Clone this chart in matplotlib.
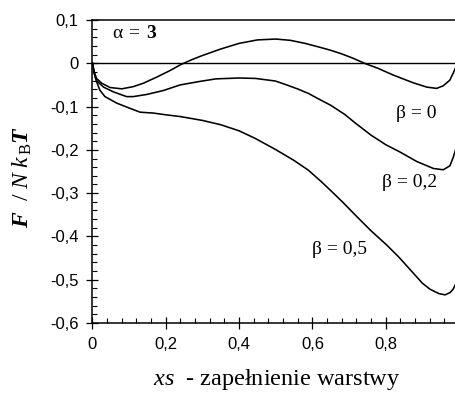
import matplotlib
matplotlib.use("Agg")
import matplotlib.pyplot as plt
from matplotlib.ticker import FixedLocator, FixedFormatter, MultipleLocator

plt.rcParams['mathtext.fontset'] = 'custom'
plt.rcParams['mathtext.rm'] = 'Liberation Serif'
plt.rcParams['mathtext.it'] = 'Liberation Serif:italic'
plt.rcParams['mathtext.bf'] = 'Liberation Serif:bold'
plt.rcParams['mathtext.bfit'] = 'Liberation Serif:italic:bold'

# ---- data ----
x_b0 = [0, 0.004, 0.011, 0.025, 0.048, 0.080, 0.111, 0.139, 0.175, 0.211, 0.241,
        0.270, 0.300, 0.350, 0.400, 0.450, 0.500, 0.540, 0.580, 0.616, 0.650,
        0.679, 0.710, 0.742, 0.780, 0.820, 0.875, 0.912, 0.939, 0.957, 0.975,
        0.984, 0.992, 1.0]
y_b0 = [0, -0.018, -0.035, -0.046, -0.056, -0.059, -0.054, -0.046, -0.032, -0.017, -0.003,
        0.008, 0.018, 0.033, 0.046, 0.054, 0.056, 0.053, 0.046, 0.038, 0.030,
        0.022, 0.012, 0.0, -0.012, -0.027, -0.045, -0.055, -0.058, -0.052, -0.039,
        -0.023, -0.008, 0.0]

x_b02 = [0, 0.004, 0.011, 0.030, 0.057, 0.093, 0.111, 0.148, 0.193, 0.239, 0.292,
         0.337, 0.400, 0.445, 0.499, 0.530, 0.562, 0.590, 0.616, 0.650, 0.688,
         0.720, 0.760, 0.800, 0.839, 0.885, 0.930, 0.957, 0.975, 0.984, 0.992, 1.0]
y_b02 = [0, -0.020, -0.040, -0.055, -0.066, -0.077, -0.077, -0.072, -0.063, -0.050, -0.042,
         -0.036, -0.034, -0.035, -0.041, -0.050, -0.060, -0.070, -0.082, -0.097, -0.118,
         -0.140, -0.166, -0.188, -0.205, -0.227, -0.243, -0.246, -0.237, -0.218, -0.196, -0.170]

x_b05 = [0, 0.004, 0.011, 0.020, 0.034, 0.066, 0.102, 0.130, 0.166, 0.200, 0.239,
         0.300, 0.350, 0.400, 0.445, 0.499, 0.549, 0.589, 0.625, 0.661, 0.684,
         0.721, 0.760, 0.803, 0.835, 0.866, 0.900, 0.921, 0.945, 0.962, 0.975,
         0.984, 0.992, 1.0]
y_b05 = [0, -0.022, -0.042, -0.062, -0.077, -0.092, -0.104, -0.113, -0.115, -0.119, -0.123,
         -0.132, -0.142, -0.156, -0.174, -0.199, -0.224, -0.247, -0.274, -0.303, -0.322,
         -0.354, -0.387, -0.420, -0.447, -0.476, -0.508, -0.522, -0.532, -0.535, -0.530,
         -0.522, -0.508, -0.480]

x_ticks = [0, 0.2, 0.4, 0.6, 0.8, 1.0]
x_labels = ['0', '0,2', '0,4', '0,6', '0,8', '1']
y_ticks = [0.1, 0, -0.1, -0.2, -0.3, -0.4, -0.5, -0.6]
y_labels = ['0,1', '0', '-0,1', '-0,2', '-0,3', '-0,4', '-0,5', '-0,6']

curve_labels = ['β = 0', 'β = 0,2', 'β = 0,5']

fig = plt.figure(figsize=(4.56, 3.94), dpi=100)
ax = fig.add_axes([92.5 / 456, 1 - 323 / 394, 366.5 / 456, 303 / 394])

for xs, ys in [(x_b0, y_b0), (x_b02, y_b02), (x_b05, y_b05)]:
    ax.plot(xs, ys, color='black', lw=1.15, clip_on=False,
            solid_joinstyle='round')

ax.axhline(0, color='black', lw=1.0)

ax.set_xlim(0, 1)
ax.set_ylim(-0.6, 0.1)

ax.xaxis.set_major_locator(FixedLocator(x_ticks))
ax.xaxis.set_major_formatter(FixedFormatter(x_labels))
ax.yaxis.set_major_locator(FixedLocator(y_ticks))
ax.yaxis.set_major_formatter(FixedFormatter(y_labels))
ax.xaxis.set_minor_locator(MultipleLocator(0.04))
ax.yaxis.set_minor_locator(MultipleLocator(0.02))

ax.tick_params(which='major', direction='inout', length=8, width=0.9, pad=6,
               labelsize=12)
ax.tick_params(which='minor', direction='in', length=3.3, width=0.8)
for lbl in ax.get_xticklabels() + ax.get_yticklabels():
    lbl.set_family('Liberation Sans')

for s in ['left', 'bottom', 'top']:
    ax.spines[s].set_linewidth(1.1)
ax.spines['right'].set_visible(False)

serif = 'Liberation Serif'
ax.text(0.116, 0.070, r'$\mathrm{α}\;=\;\mathbf{3}$', fontsize=14, ha='center', va='center')
ax.text(0.883, -0.115, curve_labels[0], fontsize=14, family=serif, ha='center', va='center')
ax.text(0.866, -0.276, curve_labels[1], fontsize=14, family=serif, ha='center', va='center')
ax.text(0.675, -0.431, curve_labels[2], fontsize=14, family=serif, ha='center', va='center')

fig.text(22 / 456, 1 - 177 / 394,
         r'$\mathbfit{F}\ \ /\ \mathit{N}\ \mathit{k}_{\,\mathrm{B}}\mathbfit{T}$',
         fontsize=17, rotation=90, ha='center', va='center')
fig.text(277 / 456, 1 - 380 / 394,
         r'$\mathit{xs}$  - zapełnienie warstwy', family=serif,
         fontsize=17.5, ha='center', va='center')

fig.savefig('out.png', dpi=100)
